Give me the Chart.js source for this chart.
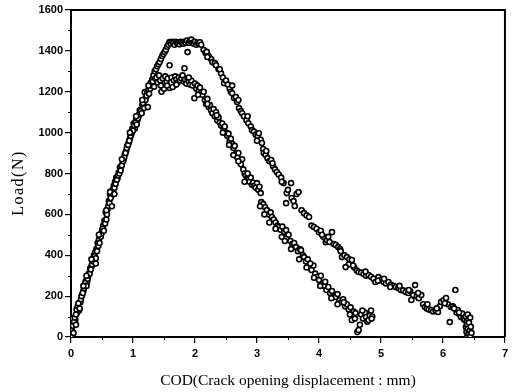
<!DOCTYPE html>
<html>
<head>
<meta charset="utf-8">
<script src="https://cdn.jsdelivr.net/npm/chart.js@4.4.1/dist/chart.umd.min.js"></script>
<style>
  html, body { margin: 0; padding: 0; background: #fff; }
  #wrap { width: 512px; height: 392px; }
</style>
</head>
<body>
<div id="wrap"><canvas id="chart" width="512" height="392"></canvas></div>
<script>
// COD (mm), Load (N) pairs
const lowerRise = [
  [0.00,5],[0.01,30],[0.02,90],[0.03,55],[0.04,20],[0.05,75],[0.06,95],[0.08,110],[0.09,135],[0.11,150],
  [0.12,165],[0.14,140],[0.16,185],[0.17,200],[0.19,215],[0.21,240],[0.23,265],[0.25,250],[0.27,285],[0.28,300],
  [0.30,310],[0.32,330],[0.34,355],[0.36,370],[0.38,395],[0.40,385],[0.42,420],[0.44,445],[0.46,460],[0.48,490],
  [0.49,505],[0.51,530],[0.53,520],[0.55,555],[0.57,575],[0.58,600],[0.60,640],[0.62,655],[0.64,680],[0.66,640],
  [0.68,700],[0.70,730],[0.72,750],[0.74,770],[0.76,790],[0.78,800],[0.80,815],[0.82,840],[0.84,860],[0.86,880],
  [0.88,900],[0.90,925],[0.92,940],[0.94,960],[0.96,985],[0.98,1000],[1.00,1010],[1.02,1035],[1.04,1050],[1.06,1040],
  [1.08,1070],[1.10,1090],[1.12,1105],[1.14,1095],[1.16,1145],[1.18,1120],[1.20,1160],[1.22,1180],[1.24,1125],[1.26,1190],
  [1.28,1215],[1.30,1230],[1.32,1250],[1.34,1225],[1.36,1265]
];
const lowerFall = [
  [1.38,1270],[1.40,1245],[1.42,1280],[1.44,1255],[1.46,1200],[1.48,1265],[1.50,1215],[1.52,1275],[1.54,1250],[1.56,1265],
  [1.59,1218],[1.62,1270],[1.64,1223],[1.66,1255],[1.68,1275],[1.70,1260],[1.72,1245],[1.74,1270],[1.76,1255],[1.78,1265],
  [1.80,1280],[1.82,1250],[1.84,1260],[1.86,1240],[1.88,1265],[1.90,1250],[1.92,1235],[1.94,1255],[1.96,1230],[1.99,1168],
  [2.00,1240],[2.02,1215],[2.04,1230],[2.06,1205],[2.08,1220],[2.10,1195],[2.12,1185],[2.14,1200],[2.16,1160],[2.18,1140],
  [2.20,1165],[2.22,1125],[2.24,1135],[2.26,1110],[2.28,1095],[2.30,1115],[2.32,1080],[2.34,1100],[2.36,1060],[2.38,1075],
  [2.40,1050],[2.42,1035],[2.44,1045],[2.46,1020],[2.48,1030],[2.50,1000],[2.52,985],[2.54,995],[2.56,960],[2.58,970],
  [2.60,945],[2.62,925],[2.64,935],[2.66,895],[2.68,880],[2.70,900],[2.72,860],[2.74,845],[2.76,870],[2.78,820],
  [2.80,800],[2.82,790],[2.84,775],[2.86,770],[2.88,760],[2.90,780],[2.92,745],[2.94,755],[2.96,740],[2.98,730],
  [3.00,753],[3.02,720],[3.04,735],[3.06,704],[3.07,660],[3.10,650],[3.13,635],[3.16,621],[3.19,600],[3.22,610],
  [3.24,587],[3.27,575],[3.30,560],[3.33,545],[3.35,538],[3.38,525],[3.41,540],[3.44,515],[3.47,523],[3.48,484],
  [3.51,500],[3.54,470],[3.57,455],[3.60,460],[3.63,440],[3.66,420],[3.69,430],[3.71,425],[3.74,400],[3.76,391],
  [3.79,370],[3.82,380],[3.85,345],[3.88,328],[3.91,350],[3.94,310],[3.97,295],[4.00,279],[4.03,300],[4.06,260],
  [4.09,250],[4.12,230],[4.15,245],[4.18,215],[4.21,225],[4.24,200],[4.27,196],[4.30,210],[4.33,180],[4.36,170],
  [4.39,185],[4.42,150],[4.45,160],[4.48,135],[4.51,145],[4.53,83],[4.56,125],[4.59,117],[4.62,24],[4.64,34],
  [4.66,60],[4.68,110],[4.71,90],[4.74,120],[4.76,98],[4.78,75],[4.80,83],[4.82,105],[4.84,130],[4.86,100]
];
const lowerScatter = [
  [0.08,60],[0.20,250],[0.25,300],[0.33,380],[0.40,360],[0.45,500],[0.57,620],[0.63,710],[0.70,700],[0.82,870],
  [0.95,1000],[1.05,1080],[1.15,1160],[1.25,1230],[1.45,1230],[1.55,1230],[1.70,1235],[1.90,1270],[2.05,1185],[2.20,1140],
  [2.35,1085],[2.45,1000],[2.55,940],[2.62,890],[2.70,860],[2.80,760],[2.85,800],[3.05,640],[3.12,600],[3.20,560],
  [3.30,530],[3.40,490],[3.45,470],[3.55,430],[3.68,380],[3.80,340],[3.86,360],[3.92,290],[4.02,250],[4.10,270],
  [4.20,190],[4.30,160],[4.40,170],[4.50,110],[4.58,90],[4.70,130],[4.85,90]
];
const upperRise = [
  [0.01,0],[0.015,50],[0.03,15],[0.045,60],[0.07,85],[0.10,120],[0.13,130],[0.15,170],[0.18,205],[0.20,225],
  [0.22,255],[0.24,275],[0.26,270],[0.29,310],[0.31,335],[0.33,345],[0.35,380],[0.37,400],[0.39,415],[0.41,430],
  [0.43,460],[0.45,475],[0.47,495],[0.50,520],[0.52,545],[0.54,570],[0.56,610],[0.59,625],[0.61,665],[0.63,700],
  [0.65,690],[0.67,720],[0.69,740],[0.71,760],[0.73,780],[0.75,775],[0.77,805],[0.79,830],[0.81,835],[0.83,865],
  [0.85,870],[0.87,895],[0.89,910],[0.91,935],[0.93,950],[0.95,970],[0.97,990],[0.99,1020],[1.01,1045],[1.03,1020],
  [1.05,1065],[1.07,1060],[1.09,1080],[1.11,1110],[1.13,1100],[1.15,1135],[1.17,1150],[1.19,1198],[1.21,1175],[1.23,1195],
  [1.25,1210],[1.27,1235],[1.29,1245],[1.31,1260],[1.33,1280],[1.35,1300],[1.37,1310],[1.39,1325],[1.41,1335],[1.43,1345],
  [1.45,1360],[1.47,1375],[1.49,1385],[1.51,1395],[1.53,1405],[1.55,1420],[1.57,1430]
];
const upperPeak = [
  [1.59,1443],[1.61,1435],[1.59,1330],[1.63,1445],[1.65,1440],[1.67,1430],[1.69,1445],[1.71,1438],[1.73,1440],[1.75,1432],
  [1.77,1445],[1.79,1440],[1.81,1435],[1.83,1315],[1.83,1445],[1.85,1440],[1.87,1450],[1.88,1394],[1.90,1440],[1.92,1448],
  [1.94,1455],[1.96,1440],[1.98,1435],[2.00,1445],[2.02,1430],[2.04,1440],[2.06,1435],[2.08,1442],[2.10,1430]
];
const upperFall = [
  [2.14,1405],[2.17,1390],[2.19,1395],[2.22,1375],[2.26,1360],[2.28,1345],[2.32,1340],[2.34,1330],[2.38,1310],[2.42,1290],
  [2.45,1270],[2.47,1242],[2.50,1255],[2.53,1235],[2.56,1215],[2.58,1200],[2.60,1193],[2.63,1170],[2.66,1174],[2.68,1150],
  [2.71,1120],[2.74,1105],[2.76,1095],[2.79,1080],[2.83,1061],[2.86,1046],[2.90,1030],[2.92,1012],[2.95,1005],[2.98,990],
  [3.01,985],[3.03,997],[3.06,965],[3.08,949],[3.10,920],[3.11,900],[3.14,890],[3.17,875],[3.20,860],[3.23,866],
  [3.26,835],[3.29,820],[3.32,807],[3.35,795],[3.39,780],[3.43,753],[3.47,655],[3.48,704],[3.50,720],[3.55,753],
  [3.56,680],[3.59,665],[3.61,641],[3.64,700],[3.67,709],[3.72,620],[3.76,606],[3.80,595],[3.84,587],[3.88,545],
  [3.92,538],[3.96,530],[4.00,513],[4.03,520],[4.07,490],[4.11,464],[4.13,474],[4.17,465],[4.21,513],[4.24,455],
  [4.27,450],[4.31,440],[4.34,430],[4.37,391],[4.41,400],[4.45,391],[4.49,380],[4.53,377],[4.48,355],[4.43,342],
  [4.57,340],[4.61,325],[4.64,318],[4.68,315],[4.72,308],[4.76,300],[4.80,303],[4.84,295],[4.88,285],[4.91,269],
  [4.96,293],[5.00,280],[5.04,270],[5.08,262],[5.12,269],[5.16,255],[5.20,250],[5.24,245],[5.28,240],[5.32,230],
  [5.36,228],[5.40,220],[5.44,215],[5.47,225],[5.49,181],[5.52,205],[5.55,254],[5.58,200],[5.61,190],[5.65,205],
  [5.68,160],[5.71,147],[5.74,140],[5.77,135],[5.81,132],[5.84,125],[5.88,130],[5.92,122],[5.95,150],[5.97,171],
  [6.01,180],[6.05,191],[6.08,160],[6.11,73],[6.13,147],[6.16,150],[6.20,230],[6.22,120],[6.24,132],[6.27,110],
  [6.29,98],[6.31,115],[6.33,90],[6.35,83],[6.37,100],[6.37,49],[6.38,75],[6.38,25],[6.39,60],[6.39,0],
  [6.40,110],[6.40,40],[6.41,85],[6.41,15],[6.42,70],[6.43,30],[6.44,95],[6.44,5],[6.45,50],[6.46,20]
];
const upperScatter = [
  [2.20,1370],[2.40,1310],[2.60,1230],[2.70,1160],[2.85,1080],[3.00,960],[3.15,910],[3.25,850],[3.40,760],[4.05,500],
  [4.15,490],[4.35,420],[4.55,350],[4.75,320],[4.95,275],[5.05,285],[5.15,245],[5.30,250],[5.45,230],[5.60,215],
  [5.75,160],[5.90,140],[6.03,165],[6.18,140],[6.26,120]
];

const xMinorTicks = [0.5, 1.5, 2.5, 3.5, 4.5, 5.5, 6.5];
const yMinorTicks = [100, 300, 500, 700, 900, 1100, 1300, 1500];
const xTitle = 'COD(Crack opening displacement : mm)';
const yTitle = 'Load(N)';

const toPts = (arr) => arr.map(([x, y]) => ({ x: x, y: y }));

const pointStyle = {
  showLine: false,
  pointRadius: 2.5,
  pointBorderWidth: 1.6,
  pointBorderColor: '#000',
  pointBackgroundColor: '#fff',
};

const frame = {
  id: 'frame',
  afterDraw(chart) {
    const ctx = chart.ctx;
    const a = chart.chartArea;
    const xs = chart.scales.x, ys = chart.scales.y;
    ctx.save();
    ctx.strokeStyle = '#000';
    ctx.lineWidth = 2;
    ctx.beginPath();
    ctx.moveTo(a.left, a.top);
    ctx.lineTo(a.right, a.top);
    ctx.lineTo(a.right, a.bottom);
    ctx.stroke();
    ctx.lineWidth = 1;
    ctx.beginPath();
    xMinorTicks.forEach((v) => {
      const px = Math.round(xs.getPixelForValue(v)) + 0.5;
      ctx.moveTo(px, a.bottom);
      ctx.lineTo(px, a.bottom + 3);
    });
    yMinorTicks.forEach((v) => {
      const py = Math.round(ys.getPixelForValue(v)) + 0.5;
      ctx.moveTo(a.left, py);
      ctx.lineTo(a.left - 3, py);
    });
    ctx.stroke();
    ctx.translate(19, 183);
    ctx.rotate(-Math.PI / 2);
    ctx.font = '16px "Liberation Serif"';
    ctx.letterSpacing = '1.5px';
    ctx.textAlign = 'center';
    ctx.textBaseline = 'middle';
    ctx.fillStyle = '#000';
    ctx.fillText(yTitle, 0, 0);
    ctx.restore();
  }
};

const tickFont = { family: '"Liberation Sans", Arial, sans-serif', size: 11, weight: 'bold' };

new Chart(document.getElementById('chart'), {
  type: 'scatter',
  data: {
    datasets: [
      { label: 'lower', data: toPts(lowerRise.concat(lowerFall, lowerScatter)), ...pointStyle },
      { label: 'upper', data: toPts(upperRise.concat(upperPeak, upperFall, upperScatter)), ...pointStyle },
    ],
  },
  options: {
    responsive: false,
    animation: false,
    layout: { padding: { top: 10, right: 5, left: 0, bottom: 0 } },
    plugins: {
      legend: { display: false },
      tooltip: { enabled: false },
    },
    scales: {
      x: {
        type: 'linear',
        min: 0,
        max: 7,
        afterFit: (scale) => { scale.height = 55; },
        ticks: { stepSize: 1, color: '#000', font: tickFont, padding: 4, maxRotation: 0, callback: (v) => String(v) },
        grid: { drawOnChartArea: false, color: '#000', tickLength: 6, lineWidth: 1.2 },
        border: { color: '#000', width: 2 },
        title: {
          display: true,
          text: xTitle,
          color: '#000',
          font: { family: '"Liberation Serif", serif', size: 15.5 },
          padding: { top: 0, bottom: 2 },
        },
      },
      y: {
        min: 0,
        max: 1600,
        afterFit: (scale) => { scale.width = 71; },
        ticks: { stepSize: 200, color: '#000', font: tickFont, padding: 2, callback: (v) => String(v) },
        grid: { drawOnChartArea: false, color: '#000', tickLength: 6, lineWidth: 1.2 },
        border: { color: '#000', width: 2 },
      },
    },
  },
  plugins: [frame],
});
</script>
</body>
</html>
